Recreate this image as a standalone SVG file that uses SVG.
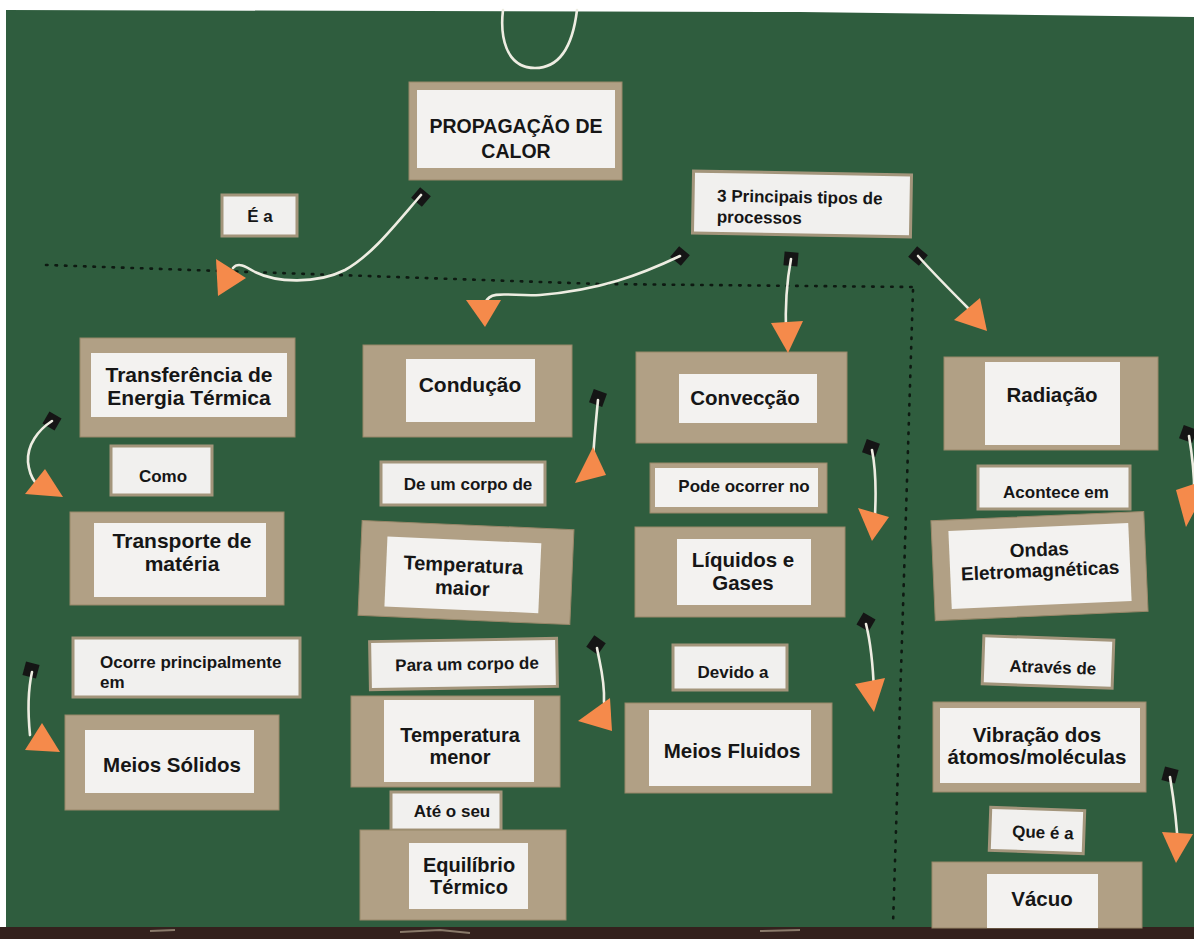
<svg xmlns="http://www.w3.org/2000/svg" width="1194" height="939" viewBox="0 0 1194 939">
<defs>
<style>
.card{fill:#b1a085;stroke:#988769;stroke-width:1}
.paper{fill:#f3f2f0}
.lab{fill:#f1f0ee;stroke:#a3957b;stroke-width:3}
.t{font-family:"Liberation Sans",Arial,sans-serif;font-weight:bold;fill:#161616;text-anchor:middle}
.tl{font-family:"Liberation Sans",Arial,sans-serif;font-weight:bold;fill:#161616;text-anchor:start}
.big{font-size:20.5px}
.sm{font-size:17px}
.string{fill:none;stroke:#eeede2;stroke-width:2.6;stroke-linecap:round}
.tri{fill:#f58a4b}
.pin{fill:#151515}
.dot{fill:none;stroke:#0e1a12;stroke-width:2.6;stroke-dasharray:1.5 8;stroke-linecap:round}
</style>
</defs>

<g id="board">
<rect x="0" y="0" width="1194" height="939" fill="#ffffff"/>
<polygon points="6,10 800,12 1194,17 1194,928 6,928" fill="#2f5d3e"/>
<rect x="0" y="927" width="1194" height="12" fill="#34211d"/>
<path d="M150 931 L175 930 M400 932 L440 930 L470 933 M760 931 L800 930" stroke="#8a7a6a" stroke-width="2" fill="none"/>
</g>

<g id="guides">
<path class="dot" d="M46 265 L600 284 L913 287"/>
<path class="dot" d="M913 290 L893 925"/>
</g>

<g id="n-propagacao">
<rect class="card" x="409" y="82" width="213" height="98"/>
<rect class="paper" x="417" y="90" width="198" height="78"/>
<text class="t" x="516" y="133" font-size="19.5">PROPAGAÇÃO DE</text>
<text class="t" x="516" y="158" font-size="19.5">CALOR</text>
</g>

<g id="n-ea">
<rect class="lab" x="222" y="195" width="75" height="41"/>
<text class="t sm" x="260" y="222">É a</text>
</g>

<g id="n-3principais" transform="rotate(1 802 204)">
<rect class="lab" x="693" y="173" width="218" height="62"/>
<text class="tl" x="717" y="203" font-size="17">3 Principais tipos de</text>
<text class="tl" x="717" y="224" font-size="17">processos</text>
</g>

<g id="n-transferencia">
<rect class="card" x="80" y="338" width="215" height="99"/>
<rect class="paper" x="91" y="353" width="196" height="64"/>
<text class="t" x="189" y="382" font-size="21">Transferência de</text>
<text class="t" x="189" y="405" font-size="21">Energia Térmica</text>
</g>

<g id="n-como">
<rect class="lab" x="111" y="446" width="101" height="49"/>
<text class="t sm" x="163" y="482">Como</text>
</g>

<g id="n-transporte">
<rect class="card" x="70" y="512" width="214" height="93"/>
<rect class="paper" x="94" y="523" width="172" height="74"/>
<text class="t" x="182" y="548" font-size="21">Transporte de</text>
<text class="t" x="182" y="571" font-size="21">matéria</text>
</g>

<g id="n-ocorre">
<rect class="lab" x="73" y="638" width="227" height="59"/>
<text class="tl sm" x="100" y="668">Ocorre principalmente</text>
<text class="tl sm" x="100" y="688">em</text>
</g>

<g id="n-meiossolidos">
<rect class="card" x="65" y="715" width="214" height="95"/>
<rect class="paper" x="85" y="730" width="169" height="63"/>
<text class="t big" x="172" y="772">Meios Sólidos</text>
</g>

<g id="n-conducao">
<rect class="card" x="363" y="345" width="209" height="92"/>
<rect class="paper" x="406" y="359" width="129" height="63"/>
<text class="t" x="470" y="392" font-size="21">Condução</text>
</g>

<g id="n-deumcorpo">
<rect class="lab" x="381" y="462" width="164" height="43"/>
<text class="t sm" x="468" y="490">De um corpo de</text>
</g>

<g id="n-tempmaior" transform="rotate(2.5 466 572)">
<rect class="card" x="360" y="525" width="212" height="95"/>
<rect class="paper" x="386" y="540" width="154" height="70"/>
<text class="t" x="463" y="572" font-size="20">Temperatura</text>
<text class="t" x="463" y="595" font-size="20">maior</text>
</g>

<g id="n-paraumcorpo" transform="rotate(-1 463 664)">
<rect class="lab" x="370" y="640" width="187" height="48"/>
<text class="t sm" x="467" y="670">Para um corpo de</text>
</g>

<g id="n-tempmenor">
<rect class="card" x="351" y="696" width="209" height="91"/>
<rect class="paper" x="384" y="700" width="150" height="82"/>
<text class="t" x="460" y="742" font-size="20">Temperatura</text>
<text class="t" x="460" y="764" font-size="20">menor</text>
</g>

<g id="n-ateoseu">
<rect class="lab" x="391" y="792" width="110" height="38"/>
<text class="t sm" x="452" y="817">Até o seu</text>
</g>

<g id="n-equilibrio">
<rect class="card" x="360" y="830" width="206" height="90"/>
<rect class="paper" x="409" y="843" width="119" height="66"/>
<text class="t" x="469" y="872" font-size="20">Equilíbrio</text>
<text class="t" x="469" y="894" font-size="20">Térmico</text>
</g>

<g id="n-conveccao">
<rect class="card" x="636" y="352" width="211" height="91"/>
<rect class="paper" x="679" y="374" width="138" height="49"/>
<text class="t big" x="745" y="405">Convecção</text>
</g>

<g id="n-podeocorrer">
<rect class="card" x="650" y="463" width="177" height="50"/>
<rect class="paper" x="655" y="468" width="163" height="39"/>
<text class="t sm" x="744" y="492">Pode ocorrer no</text>
</g>

<g id="n-liquidos">
<rect class="card" x="635" y="527" width="210" height="90"/>
<rect class="paper" x="677" y="539" width="134" height="66"/>
<text class="t big" x="743" y="567">Líquidos e</text>
<text class="t big" x="743" y="590">Gases</text>
</g>

<g id="n-devido">
<rect class="lab" x="673" y="645" width="114" height="45"/>
<text class="t sm" x="733" y="678">Devido a</text>
</g>

<g id="n-meiosfluidos">
<rect class="card" x="625" y="703" width="207" height="90"/>
<rect class="paper" x="649" y="710" width="162" height="76"/>
<text class="t big" x="732" y="758">Meios Fluidos</text>
</g>

<g id="n-radiacao">
<rect class="card" x="944" y="357" width="214" height="93"/>
<rect class="paper" x="985" y="362" width="135" height="83"/>
<text class="t big" x="1052" y="402">Radiação</text>
</g>

<g id="n-acontece">
<rect class="lab" x="978" y="466" width="152" height="43"/>
<text class="t sm" x="1056" y="498">Acontece em</text>
</g>

<g id="n-ondas" transform="rotate(-2.5 1040 566)">
<rect class="card" x="933" y="516" width="213" height="100"/>
<rect class="paper" x="950" y="527" width="180" height="78"/>
<text class="t" x="1040" y="556" font-size="19">Ondas</text>
<text class="t" x="1040" y="577" font-size="19">Eletromagnéticas</text>
</g>

<g id="n-atraves" transform="rotate(2 1048 662)">
<rect class="lab" x="983" y="638" width="130" height="48"/>
<text class="t sm" x="1053" y="673">Através de</text>
</g>

<g id="n-vibracao">
<rect class="card" x="933" y="702" width="213" height="90"/>
<rect class="paper" x="940" y="708" width="200" height="75"/>
<text class="t big" x="1037" y="742">Vibração dos</text>
<text class="t big" x="1037" y="764">átomos/moléculas</text>
</g>

<g id="n-queea" transform="rotate(2 1037 830)">
<rect class="lab" x="990" y="809" width="94" height="43"/>
<text class="t sm" x="1043" y="838">Que é a</text>
</g>

<g id="n-vacuo">
<rect class="card" x="932" y="862" width="210" height="66"/>
<rect class="paper" x="987" y="874" width="111" height="54"/>
<text class="t big" x="1042" y="906">Vácuo</text>
</g>

<g id="connectors">
<path class="string" d="M503 10 C500 35 505 68 535 68 C565 68 574 35 577 10"/>

<rect class="pin" x="414" y="190" width="14" height="14" transform="rotate(40 421 197)"/>
<path class="string" d="M421 195 C395 225 372 255 345 270 C315 285 275 282 255 272 C245 266 238 262 233 268"/>
<polygon class="tri" points="216,259 246,278 218,296"/>

<rect class="pin" x="673" y="249" width="14" height="14" transform="rotate(40 680 256)"/>
<path class="string" d="M680 256 C640 275 600 290 540 295 C515 297 490 289 486 302"/>
<polygon class="tri" points="466,300 501,300 485,327"/>

<rect class="pin" x="784" y="252" width="14" height="14" transform="rotate(5 791 259)"/>
<path class="string" d="M791 259 C786 285 785 305 786 335"/>
<polygon class="tri" points="771,323 803,321 788,353"/>

<rect class="pin" x="911" y="249" width="14" height="14" transform="rotate(40 918 256)"/>
<path class="string" d="M918 256 C935 275 955 295 970 310"/>
<polygon class="tri" points="954,320 980,298 987,331"/>

<rect class="pin" x="45" y="414" width="14" height="14" transform="rotate(30 52 421)"/>
<path class="string" d="M52 421 C38 430 27 445 28 462 C29 472 32 478 35 482"/>
<polygon class="tri" points="25,494 45,469 63,497"/>

<rect class="pin" x="591" y="391" width="14" height="14" transform="rotate(20 598 398)"/>
<path class="string" d="M598 400 C596 420 594 440 593 460"/>
<polygon class="tri" points="575,483 593,447 606,475"/>

<rect class="pin" x="864" y="441" width="14" height="14" transform="rotate(20 871 448)"/>
<path class="string" d="M872 450 C876 470 876 495 875 515"/>
<polygon class="tri" points="858,508 889,517 872,541"/>

<rect class="pin" x="1181" y="427" width="14" height="14" transform="rotate(20 1188 434)"/>
<path class="string" d="M1189 436 C1193 460 1195 485 1194 505"/>
<polygon class="tri" points="1176,490 1194,484 1194,512 1186,527"/>

<rect class="pin" x="24" y="663" width="14" height="14" transform="rotate(15 31 670)"/>
<path class="string" d="M32 672 C28 690 28 715 30 735"/>
<polygon class="tri" points="25,750 42,723 60,752"/>

<rect class="pin" x="589" y="638" width="14" height="14" transform="rotate(35 596 645)"/>
<path class="string" d="M597 648 C600 665 605 680 604 702"/>
<polygon class="tri" points="578,721 610,698 612,731"/>

<rect class="pin" x="859" y="615" width="14" height="14" transform="rotate(30 866 622)"/>
<path class="string" d="M866 624 C870 640 873 665 874 692"/>
<polygon class="tri" points="855,684 885,678 874,712"/>

<rect class="pin" x="1163" y="768" width="14" height="14" transform="rotate(15 1170 775)"/>
<path class="string" d="M1170 777 C1173 795 1177 820 1178 850"/>
<polygon class="tri" points="1162,832 1193,834 1176,863"/>
</g>
</svg>
